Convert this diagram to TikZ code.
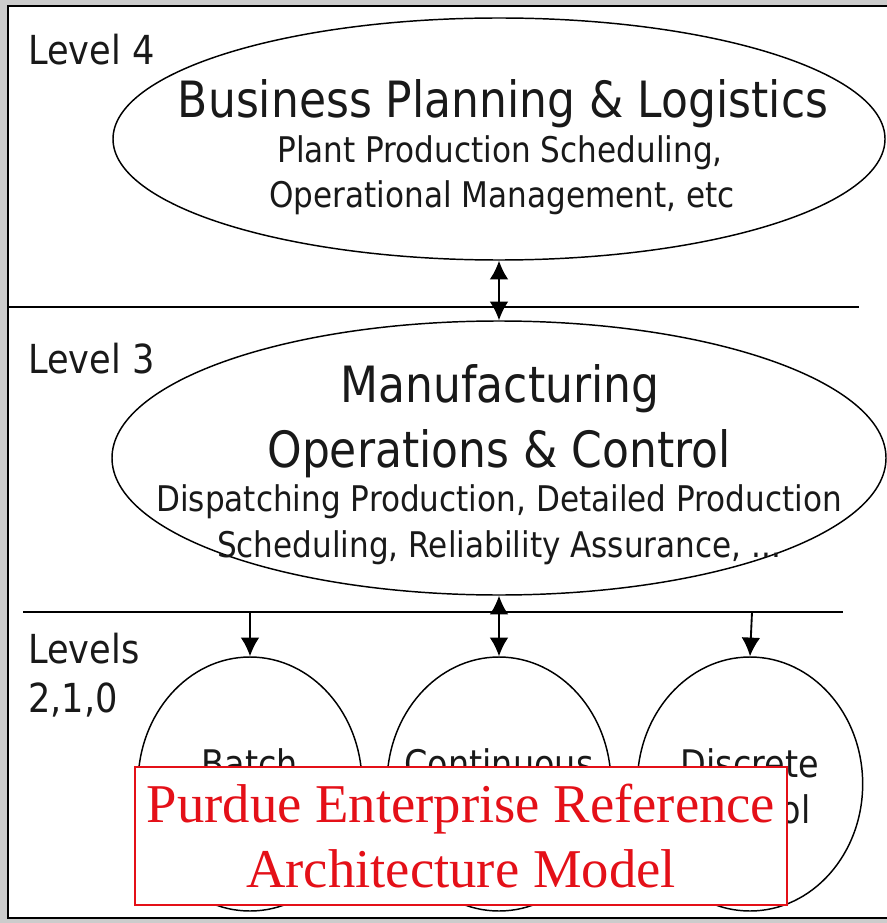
\documentclass[tikz,border=0pt]{standalone}
\usepackage{fontspec}
\usetikzlibrary{shapes.geometric}
\usetikzlibrary{arrows.meta}
\usepackage{xcolor}

\newfontfamily\tahomafont[FakeStretch=0.88]{DejaVu Sans}
\newfontfamily\timesfont{Liberation Serif}
\definecolor{purduered}{RGB}{228,16,24}
\definecolor{marble}{RGB}{204,204,204}

\tikzset{
  bubble/.style={draw, ellipse, line width=1.1pt, inner sep=0pt},
  levelsep/.style={line width=2.1pt},
  flow/.style={line width=1.4pt, -{Latex[length=14pt,width=14pt]}},
  biflow/.style={line width=1.4pt, {Latex[length=14pt,width=14pt]}-{Latex[length=14pt,width=14pt]}},
  leveltxt/.style={font=\tahomafont\fontsize{30pt}{36pt}\selectfont, inner sep=0pt, text=black!90},
  titletxt/.style={font=\tahomafont\fontsize{37.5pt}{45pt}\selectfont, inner sep=0pt, text=black!90},
  subtxt/.style={font=\tahomafont\fontsize{26.5pt}{31pt}\selectfont, inner sep=0pt, text=black!90},
  celltxt/.style={font=\tahomafont\fontsize{28.5pt}{34pt}\selectfont, inner sep=0pt, text=black!90},
  notebox/.style={draw=purduered, fill=white, line width=1.6pt, text=purduered, font=\timesfont\fontsize{41pt}{48.75pt}\selectfont, align=center, inner sep=0pt}
}

\begin{document}
\begin{tikzpicture}[x=0.75pt,y=0.75pt,yscale=-1,xscale=1]
\useasboundingbox (0,0) rectangle (887,923);

%Shape: Background
\fill [marble] (0,0) rectangle (887,923);
\draw [fill=white, line width=1.5pt] (8,6) rectangle (895,918);

%Shape: Ellipse [level 4]
\node [bubble, minimum width=579pt, minimum height=181.5pt] (bpl) at (499,139) {};
%Shape: Ellipse [level 3]
\node [bubble, minimum width=580.5pt, minimum height=205.5pt] (moc) at (499,458) {};
%Shape: Circles [levels 2,1,0]
\node [bubble, minimum width=168pt, minimum height=190.5pt] (batch) at (250,784) {};
\node [bubble, minimum width=168pt, minimum height=190.5pt] (cont) at (499,784) {};
\node [bubble, minimum width=169pt, minimum height=190.5pt] (disc) at (750,784) {};

%Straight Lines [level separators]
\coordinate (sepA-w) at (8,307);
\coordinate (sepA-e) at (859,307);
\draw [levelsep] (sepA-w) -- (sepA-e);
\coordinate (sepB-w) at (23,612);
\coordinate (sepB-e) at (843,612);
\draw [levelsep] (sepB-w) -- (sepB-e);

%Straight Lines [arrows]
\draw [biflow] (bpl.south) -- (moc.north);
\draw [biflow] (moc.south) -- (cont.north);
\draw [flow] (batch.north |- sepB-w) -- (batch.north);
\coordinate (discdrop) at (752,612);
\draw [flow] (discdrop) -- (disc.north);

% Text Node
\node [leveltxt, anchor=base west] (lvl4) at (28,65) {Level 4};
% Text Node
\node [leveltxt, anchor=base west] (lvl3) at (28,373) {Level 3};
% Text Node
\node [leveltxt, anchor=base west] (lvls) at (28,663) {Levels};
% Text Node
\node [leveltxt, anchor=base west] (lvlnums) at (28,712) {2,1,0};

% Text Node
\node [titletxt, anchor=base] (bpltitle) at (503,118) {Business Planning \& Logistics};
% Text Node
\node [subtxt, anchor=base] (bplsub1) at (500,163) {Plant Production Scheduling,};
% Text Node
\node [subtxt, anchor=base] (bplsub2) at (502,208) {Operational Management, etc};

% Text Node
\node [titletxt, anchor=base] (moctitle1) at (500,402) {Manufacturing};
% Text Node
\node [titletxt, anchor=base] (moctitle2) at (499,467) {Operations \& Control};
% Text Node
\node [subtxt, anchor=base] (mocsub1) at (499,511) {Dispatching Production, Detailed Production};
% Text Node
\node [subtxt, anchor=base] (mocsub2) at (499,557) {Scheduling, Reliability Assurance, ...};

% Text Node
\node [celltxt, anchor=base] (batchtxt) at (250,777) {Batch};
\node [celltxt, anchor=base] (batchtxt2) at (250,823) {Control};
% Text Node
\node [celltxt, anchor=base] (conttxt) at (499,777) {Continuous};
\node [celltxt, anchor=base] (conttxt2) at (499,823) {Control};
% Text Node
\node [celltxt, anchor=base] (disctxt) at (750,777) {Discrete};
\node [celltxt, anchor=base] (disctxt2) at (750,823) {Control};

%Shape: Rectangle [caption]
\node [notebox, minimum width=489pt, minimum height=103.5pt] (perabox) at (461,836) {Purdue Enterprise Reference\\Architecture Model};

\end{tikzpicture}
\end{document}
